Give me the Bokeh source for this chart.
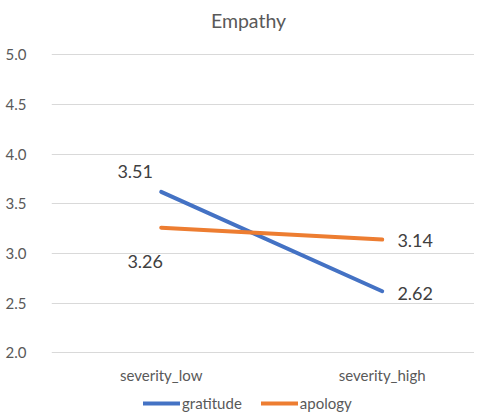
from bokeh.plotting import figure
from bokeh.models import (ColumnDataSource, LabelSet, Label, Legend, LegendItem, Range1d,
                          FixedTicker, PrintfTickFormatter)
from bokeh.core.properties import value
from bokeh.embed import file_html
from bokeh.resources import INLINE

# ---- data ----
title_text = "Empathy"
categories = ["severity_low", "severity_high"]
gratitude = [3.62, 2.62]
apology = [3.26, 3.14]
gratitude_labels = ["3.51", "2.62"]
apology_labels = ["3.26", "3.14"]
y_ticks = [2.0, 2.5, 3.0, 3.5, 4.0, 4.5, 5.0]

# ---- styles ----
BLUE = "#4472C4"
ORANGE = "#ED7D31"
FONT = "Lato"
g_offx, g_offy = [-26, 33], [20, -2]
a_offx, a_offy = [-16, 33], [-34, -1]

xs = list(range(len(categories)))

p = figure(width=474, height=412, output_backend="svg", toolbar_location=None,
           x_range=Range1d(-0.4964, 1.4176), y_range=Range1d(1.399, 5.547),
           x_axis_location=None, title_location=None,
           min_border_left=51, min_border_right=0, min_border_top=0, min_border_bottom=0)
p.outline_line_color = None
p.background_fill_color = "white"
p.border_fill_color = "white"

p.add_layout(Label(x=197, y=392, x_units="screen", y_units="screen", text=title_text,
                   text_align="center", text_baseline="middle",
                   text_font=FONT, text_font_size="19.5px", text_color="#595959"))

p.xgrid.visible = False
p.ygrid.ticker = FixedTicker(ticks=y_ticks)
p.ygrid.grid_line_color = "#d9d9d9"
p.ygrid.grid_line_width = 1

p.yaxis.ticker = FixedTicker(ticks=y_ticks)
p.yaxis.formatter = PrintfTickFormatter(format="%.1f")
p.yaxis.axis_line_color = None
p.yaxis.major_tick_line_color = None
p.yaxis.minor_tick_line_color = None
p.yaxis.major_label_standoff = 19
p.yaxis.major_label_text_font = FONT
p.yaxis.major_label_text_font_size = "15px"
p.yaxis.major_label_text_color = "#595959"

# category labels under the lowest gridline
src_c = ColumnDataSource(dict(x=xs, y=[min(y_ticks)] * len(xs), t=categories))
p.add_layout(LabelSet(x="x", y="y", text="t", source=src_c, y_offset=-22,
                      text_align="center", text_baseline="middle",
                      text_font=value(FONT), text_font_size=value("15px"),
                      text_color="#595959"))

src_g = ColumnDataSource(dict(x=xs, y=gratitude, t=gratitude_labels, ox=g_offx, oy=g_offy))
src_a = ColumnDataSource(dict(x=xs, y=apology, t=apology_labels, ox=a_offx, oy=a_offy))

r_g = p.line("x", "y", source=src_g, line_color=BLUE, line_width=4, line_cap="round")
r_a = p.line("x", "y", source=src_a, line_color=ORANGE, line_width=4, line_cap="round")

for src in (src_g, src_a):
    p.add_layout(LabelSet(x="x", y="y", text="t", source=src, x_offset="ox", y_offset="oy",
                          text_align="center", text_baseline="middle",
                          text_font=value(FONT), text_font_size=value("18px"),
                          text_color="#404040"))

legend = Legend(items=[LegendItem(label="gratitude", renderers=[r_g]),
                       LegendItem(label="apology", renderers=[r_a])],
                orientation="horizontal", location=(92, 0),
                glyph_width=37, glyph_height=16, label_standoff=2, spacing=19,
                padding=0, margin=0, border_line_color=None, background_fill_alpha=0,
                label_text_font=FONT, label_text_font_size="15px", label_text_color="#595959")
p.add_layout(legend, "center")

open("out.html", "w").write(file_html(p, INLINE))
